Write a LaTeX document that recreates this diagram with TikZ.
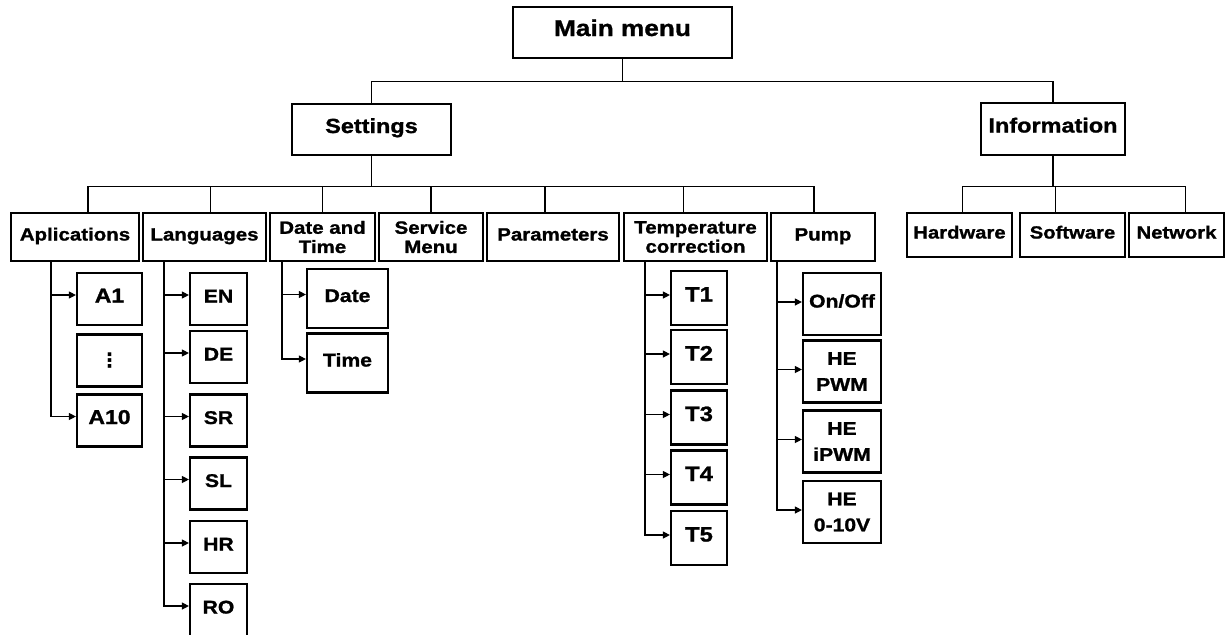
\documentclass[tikz,border=0pt]{standalone}
\usepackage{fontspec}
\setmainfont{Liberation Sans}[FakeStretch=1.15, BoldFeatures={FakeBold=1.2}]
\newfontfamily\dotsfont{DejaVu Sans}
\usepackage{tikz}
\usetikzlibrary{positioning,arrows.meta}

\begin{document}
\begin{tikzpicture}[x=0.5pt,y=-0.5pt,
  box/.style={draw, line width=1.1pt, inner sep=0pt, align=center, font=\bfseries},
  one/.style={text height=0.75em, text depth=0.4em},
  topbox/.style={box, one, font=\bfseries\fontsize{11.4}{13}\selectfont},
  midbox/.style={box, font=\bfseries\fontsize{10.2}{12}\selectfont, minimum height=25.5pt},
  subbox/.style={box, font=\bfseries\fontsize{8.9}{9.6}\selectfont, minimum height=24pt},
  infobox/.style={box, one, font=\bfseries\fontsize{8.8}{10}\selectfont, minimum height=22pt},
  leaf/.style={box, font=\bfseries\fontsize{9.2}{13}\selectfont},
  link/.style={line width=0.6pt},
  arr/.style={line width=0.6pt, -{Triangle[length=3.5pt,width=3.5pt]}}]
\useasboundingbox (0,0) rectangle (1226,634);

\node[topbox, minimum width=109.5pt, minimum height=25.5pt] (main) at (622.5,32.5) {Main menu};
\node[midbox, one, minimum width=79.5pt] (settings) at (371.5,129.5) {Settings};
\node[midbox, one, minimum width=72pt, minimum height=26pt] (info) at (1053,129) {Information};

\node[subbox, one, minimum width=64pt] (apl) at (75,237) {Aplications};
\node[subbox, one, minimum width=61.5pt] (lang) at (204.5,237) {Languages};
\node[subbox, minimum width=52.5pt] (dt) at (322.5,237) {Date and\\Time};
\node[subbox, minimum width=52pt] (sm) at (431,237) {Service\\Menu};
\node[subbox, one, minimum width=66pt] (par) at (553,237) {Parameters};
\node[subbox, minimum width=71.5pt] (tc) at (695.5,237) {Temperature\\correction};
\node[subbox, one, minimum width=52pt] (pump) at (823,237) {Pump};

\node[infobox, minimum width=52.5pt] (hw) at (959.5,235) {Hardware};
\node[infobox, minimum width=52.5pt] (sw) at (1072.5,235) {Software};
\node[infobox, minimum width=47.5pt] (nw) at (1176.5,235) {Network};

\node[leaf, one, minimum width=32.5pt, minimum height=26pt, font=\bfseries\fontsize{10}{13}\selectfont] (a1) at (109.5,299) {A1};
\node[leaf, minimum width=32.5pt, minimum height=26pt, font=\dotsfont\bfseries\fontsize{10}{13}\selectfont] (adots) at (109.5,360.5) {⋮};
\node[leaf, one, minimum width=32.5pt, minimum height=26pt, font=\bfseries\fontsize{10}{13}\selectfont] (a10) at (109.5,420.5) {A10};

\node[leaf, one, minimum width=28.5pt, minimum height=26pt] (en) at (218.5,299) {EN};
\node[leaf, one, minimum width=28.5pt, minimum height=26pt] (de) at (218.5,357) {DE};
\node[leaf, one, minimum width=28.5pt, minimum height=26pt] (sr) at (218.5,420.5) {SR};
\node[leaf, one, minimum width=28.5pt, minimum height=26pt] (sl) at (218.5,483.5) {SL};
\node[leaf, one, minimum width=28.5pt, minimum height=26pt] (hr) at (218.5,547) {HR};
\node[leaf, one, minimum width=28.5pt, minimum height=26pt] (ro) at (218.5,610) {RO};

\node[leaf, one, minimum width=40.5pt, minimum height=29.5pt] (date) at (347.5,298.5) {Date};
\node[leaf, one, minimum width=40.5pt, minimum height=29.5pt] (time) at (347.5,363) {Time};

\node[leaf, one, minimum width=28pt, minimum height=27pt, font=\bfseries\fontsize{10.4}{13}\selectfont] (t1) at (699,298) {T1};
\node[leaf, one, minimum width=28pt, minimum height=27pt, font=\bfseries\fontsize{10.4}{13}\selectfont] (t2) at (699,357) {T2};
\node[leaf, one, minimum width=28pt, minimum height=27pt, font=\bfseries\fontsize{10.4}{13}\selectfont] (t3) at (699,417.5) {T3};
\node[leaf, one, minimum width=28pt, minimum height=27pt, font=\bfseries\fontsize{10.4}{13}\selectfont] (t4) at (699,477.5) {T4};
\node[leaf, one, minimum width=28pt, minimum height=27pt, font=\bfseries\fontsize{10.4}{13}\selectfont] (t5) at (699,538) {T5};

\node[leaf, one, minimum width=39pt, minimum height=31pt] (onoff) at (842,304) {On/Off};
\node[leaf, minimum width=39pt, minimum height=31pt] (pwm) at (842,371.5) {HE\\PWM};
\node[leaf, minimum width=39pt, minimum height=31pt] (ipwm) at (842,441.5) {HE\\iPWM};
\node[leaf, minimum width=39pt, minimum height=31pt] (volt) at (842,512) {HE\\0-10V};

\draw[link] (main.south) -- ++(0,22) -| (settings.north);
\draw[link] (main.south) -- ++(0,22) -| (info.north);
\foreach \c/\d in {apl/6.5,lang/3,dt/0,sm/0,par/-4,tc/-6,pump/-4.5}
  \draw[link] (settings.south) -- ++(0,30) -| ([xshift=\d pt]\c.north);
\foreach \c/\d in {hw/1.5,sw/-8.7,nw/4.5}
  \draw[link] (info.south) -- ++(0,30) -| ([xshift=\d pt]\c.north);

\coordinate (aplstem) at (51,261);
\coordinate (langstem) at (164,261);
\coordinate (dtstem) at (282,261);
\coordinate (tcstem) at (645,261);
\coordinate (pumpstem) at (777,261);

\foreach \c in {a1,a10}
  \draw[arr] (aplstem) |- ([yshift=2pt]\c.west);
\foreach \c in {en,de,sr,sl,hr,ro}
  \draw[arr] (langstem) |- ([yshift=2pt]\c.west);
\foreach \c in {date,time}
  \draw[arr] (dtstem) |- ([yshift=2pt]\c.west);
\foreach \c in {t1,t2,t3,t4,t5}
  \draw[arr] (tcstem) |- ([yshift=1.5pt]\c.west);
\foreach \c in {onoff,pwm,ipwm,volt}
  \draw[arr] (pumpstem) |- ([yshift=1pt]\c.west);
\end{tikzpicture}
\end{document}
